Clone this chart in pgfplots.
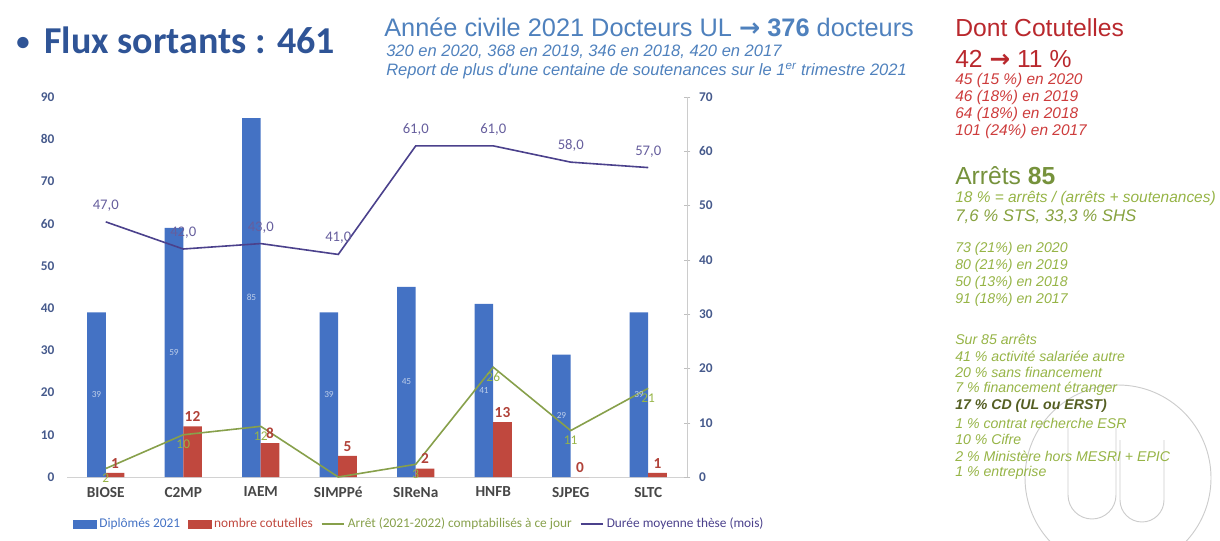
\documentclass[border=0pt]{standalone}
\usepackage{pgfplots}
\pgfplotsset{compat=1.18}
\usepackage{fontspec}
\setmainfont{Carlito}
\newfontfamily\arial{Liberation Sans}
\newfontfamily\djv{DejaVu Sans}
\newcommand{\bigarrow}{{\djv\bfseries →}}
\definecolor{barblue}{RGB}{68,114,196}
\definecolor{barred}{RGB}{192,72,62}
\definecolor{lgreen}{RGB}{135,160,75}
\definecolor{lpurple}{RGB}{75,65,140}
\definecolor{titleblue}{RGB}{47,84,150}
\definecolor{headblue}{RGB}{79,129,189}
\definecolor{headred}{RGB}{185,40,45}
\definecolor{itred}{RGB}{205,60,60}
\definecolor{headgreen}{RGB}{118,146,60}
\definecolor{itgreen}{RGB}{150,180,70}
\definecolor{darkolive}{RGB}{85,95,35}
\definecolor{tickcol}{RGB}{70,90,140}
\begin{document}
\begin{tikzpicture}
\begin{scope}[x=0.75pt,y=-0.75pt]
\path[use as bounding box] (0,0) rectangle (1220,541);
% logo (faint)
\draw[gray!40, line width=0.7pt] (1118,478) circle (93);
\draw[gray!40, line width=0.7pt] (1068,428) -- (1068,495) arc[start angle=180,end angle=0,radius=24] -- (1116,428);
\draw[gray!40, line width=0.7pt] (1120,440) -- (1120,500) arc[start angle=180,end angle=0,radius=22] -- (1164,440);
% title block
\node[anchor=west, text=titleblue, font=\fontsize{28.5}{30}\selectfont\bfseries, inner sep=0pt] at (16,40) {\raisebox{2pt}{\fontsize{20}{20}\selectfont •}\, Flux sortants : 461};
\node[anchor=west, text=headblue, font=\arial\fontsize{19}{20}\selectfont, inner sep=0pt] at (384,27) {Année civile 2021 Docteurs UL \bigarrow{} \textbf{376} docteurs};
\node[anchor=west, text=headblue, font=\arial\itshape\fontsize{12.4}{14}\selectfont, inner sep=0pt] at (386,52) {320 en 2020, 368 en 2019, 346 en 2018, 420 en 2017};
\node[anchor=west, text=headblue, font=\arial\itshape\fontsize{12.4}{14}\selectfont, inner sep=0pt] at (386,71) {Report de plus d'une centaine de soutenances sur le 1\textsuperscript{er} trimestre 2021};
% right column
\node[anchor=west, text=headred, font=\arial\fontsize{18.5}{20}\selectfont, inner sep=0pt] at (955,28) {Dont Cotutelles};
\node[anchor=west, text=headred, font=\arial\fontsize{18.5}{20}\selectfont, inner sep=0pt] at (955,59) {42 \bigarrow{} 11 \%};
\begin{scope}[every node/.style={anchor=west, text=itred, font=\arial\itshape\fontsize{11.6}{13}\selectfont, inner sep=0pt}]
\node at (955,81) {45 (15 \%) en 2020};
\node at (955,98) {46 (18\%) en 2019};
\node at (955,115) {64 (18\%) en 2018};
\node at (955,132) {101 (24\%) en 2017};
\end{scope}
\node[anchor=west, text=headgreen, font=\arial\fontsize{18.5}{20}\selectfont, inner sep=0pt] at (955,176) {Arrêts \textbf{85}};
\node[anchor=west, text=itgreen, font=\arial\itshape\fontsize{11.6}{13}\selectfont, inner sep=0pt] at (955,198) {18 \% = arrêts / (arrêts + soutenances)};
\node[anchor=west, text=itgreen!90!black, font=\arial\itshape\fontsize{12.6}{14}\selectfont, inner sep=0pt] at (955,217) {7,6 \% STS, 33,3 \% SHS};
\begin{scope}[every node/.style={anchor=west, text=itgreen, font=\arial\itshape\fontsize{10.6}{12}\selectfont, inner sep=0pt}]
\node at (955,249) {73 (21\%) en 2020};
\node at (955,266) {80 (21\%) en 2019};
\node at (955,283) {50 (13\%) en 2018};
\node at (955,300) {91 (18\%) en 2017};
\node at (955,339) {Sur 85 arrêts};
\node at (955,356) {41 \% activité salariée autre};
\node at (955,372) {20 \% sans financement};
\node at (955,389) {7 \% financement étranger};
\node[text=darkolive, font=\arial\itshape\bfseries\fontsize{10.6}{12}\selectfont] at (955,406) {17 \% CD (UL ou ERST)};
\node at (955,423) {1 \% contrat recherche ESR};
\node at (955,439) {10 \% Cifre};
\node at (955,456) {2 \% Ministère hors MESRI + EPIC};
\node at (955,473) {1 \% entreprise};
\end{scope}
\end{scope}

\begin{axis}[
  at={(50.25pt,-357.75pt)}, anchor=south west,
  scale only axis, width=465pt, height=285pt,
  xmin=-0.5, xmax=7.5, ymin=0, ymax=90,
  axis x line*=bottom, axis y line*=left,
  x axis line style={draw=gray!35, line width=0.6pt, -},
  y axis line style={draw=none, -},
  xtick={0,...,7},
  xticklabels={BIOSE,C2MP,IAEM,SIMPPé,SIReNa,HNFB,SJPEG,SLTC},
  ytick={0,10,...,90},
  major tick length=0pt,
  /pgf/number format/assume math mode=true,
  yticklabel style={font=\fontsize{10}{12}\selectfont\bfseries, text=tickcol, xshift=-6pt},
  xticklabel style={font=\fontsize{11.5}{13}\selectfont\bfseries, text=black!72, yshift=-4pt},
  clip=false,
]
\addplot[ybar, bar width=13.9pt, bar shift=-6.95pt, fill=barblue, draw=none,
  visualization depends on=rawy \as \rawy,
  nodes near coords,
  nodes near coords style={anchor=center, xshift=-6.95pt, yshift=-\rawy*1.58333pt, font=\fontsize{7}{8}\selectfont, text=white!65!barblue}]
  coordinates {(0,39) (1,59) (2,85) (3,39) (4,45) (5,41) (6,29) (7,39)};
\addplot[ybar, bar width=13.9pt, bar shift=6.95pt, fill=barred, draw=none,
  nodes near coords,
  nodes near coords style={anchor=south, xshift=6.95pt, font=\fontsize{11.5}{13}\selectfont\bfseries, text=barred!92!black}]
  coordinates {(0,1) (1,12) (2,8) (3,5) (4,2) (5,13) (6,0) (7,1)};
\addplot[lgreen, line width=1.2pt, mark=none,
  point meta=explicit symbolic,
  nodes near coords,
  nodes near coords style={anchor=north, font=\fontsize{10}{12}\selectfont, text=itgreen}]
  coordinates {(0,2)[2] (1,10)[10] (2,12)[12] (3,0)[{}] (4,3)[3] (5,26)[26] (6,11)[11] (7,21)[21]};
\end{axis}

\begin{axis}[
  at={(50.25pt,-357.75pt)}, anchor=south west,
  scale only axis, width=465pt, height=285pt,
  xmin=-0.5, xmax=7.5, ymin=0, ymax=70,
  axis x line=none, axis y line*=right,
  y axis line style={draw=gray!40, line width=0.6pt, -},
  xtick=\empty,
  ytick={0,10,...,70},
  major tick length=5pt, tick align=center,
  ytick style={draw=gray!50},
  /pgf/number format/assume math mode=true,
  yticklabel style={font=\fontsize{10}{12}\selectfont\bfseries, text=tickcol, xshift=3pt},
  clip=false,
  legend style={at={(0.569,-0.124)}, anchor=center, draw=none, fill=none,
    font=\fontsize{10}{11}\selectfont, legend cell align=left,
    /tikz/every even column/.append style={column sep=4pt}},
  legend columns=-1,
]
\addlegendimage{area legend, fill=barblue, draw=barblue}
\addlegendentry{\textcolor{barblue}{Diplômés 2021}}
\addlegendimage{area legend, fill=barred, draw=barred}
\addlegendentry{\textcolor{barred}{nombre cotutelles}}
\addlegendimage{lgreen, line width=1.2pt}
\addlegendentry{\textcolor{lgreen}{Arrêt (2021-2022) comptabilisés à ce jour}}
\addplot[lpurple, line width=1.2pt, mark=none,
  nodes near coords={\pgfmathprintnumber[fixed,fixed zerofill,precision=1,use comma]{\pgfplotspointmeta}},
  nodes near coords style={anchor=south, yshift=4pt, font=\fontsize{11}{13}\selectfont, text=lpurple!85}]
  coordinates {(0,47) (1,42) (2,43) (3,41) (4,61) (5,61) (6,58) (7,57)};
\addlegendentry{\textcolor{lpurple}{Durée moyenne thèse (mois)}}
\end{axis}
\end{tikzpicture}
\end{document}
